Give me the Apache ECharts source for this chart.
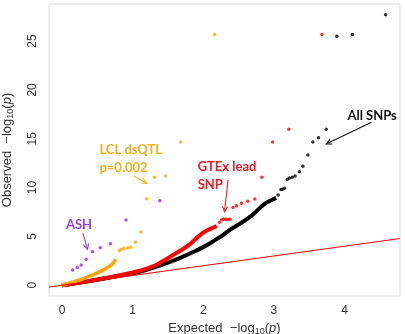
<!DOCTYPE html>
<html><head><meta charset="utf-8">
<script src="https://cdn.jsdelivr.net/npm/echarts@6.0.0/dist/echarts.min.js"></script>
<style>html,body{margin:0;padding:0;background:#fff}#c{width:405px;height:334px}</style>
</head><body><div id="c"></div>
<script>
// Axis ticks
const xTicks = [0, 1, 2, 3, 4];
const yTicks = [0, 5, 10, 15, 20, 25];
const xRange = [-0.184, 4.784];
const yRange = [-1.1, 28.8];

// All SNPs (black): dense part and sparse tail [expected, observed]
const allDense = [[0,0],[0.1,0.1],[0.2,0.21],[0.3,0.32],[0.4,0.44],[0.5,0.56],[0.6,0.69],[0.7,0.82],[0.8,0.95],[0.9,1.08],[1.0,1.22],[1.1,1.38],[1.22,1.62],[1.34,1.9],[1.45,2.2],[1.57,2.5],[1.69,2.85],[1.81,3.25],[1.93,3.65],[2.05,4.1],[2.16,4.6],[2.28,5.15],[2.38,5.7],[2.47,6.1],[2.54,6.4],[2.61,6.75],[2.68,7.1],[2.75,7.55],[2.82,8.05],[2.89,8.45],[2.96,8.7],[3.03,8.95]];
const allSparse = [[3.06,9.24],[3.10,9.8],[3.12,9.83],[3.15,9.93],[3.19,10.85],[3.22,10.98],[3.26,11.05],[3.30,11.19],[3.36,11.63],[3.41,12.18],[3.48,13.34],[3.55,14.67],[3.63,15.1],[3.74,15.97],[3.89,25.5],[4.11,25.68],[4.58,27.7]];

// GTEx lead SNP (red)
const gtexDense = [[0,0],[0.1,0.1],[0.2,0.22],[0.3,0.34],[0.4,0.46],[0.5,0.59],[0.6,0.72],[0.7,0.86],[0.8,1.0],[0.9,1.15],[1.0,1.3],[1.1,1.48],[1.22,1.75],[1.34,2.1],[1.45,2.55],[1.57,3.1],[1.69,3.6],[1.81,4.2],[1.90,4.8],[1.98,5.3],[2.05,5.6],[2.12,5.85],[2.19,6.05]];
const gtexSparse = [[2.23,6.45],[2.26,6.72],[2.29,6.75],[2.32,6.75],[2.35,6.75],[2.38,6.75],[2.42,7.95],[2.47,8.15],[2.54,8.4],[2.63,8.6],[2.73,8.83],[2.83,11.05],[2.98,14.67],[3.21,15.97],[3.68,25.68]];

// LCL dsQTL p=0.002 (orange)
const lclDense = [[0,0],[0.07,0.15],[0.16,0.33],[0.26,0.56],[0.36,0.85],[0.45,1.12],[0.54,1.40],[0.61,1.65],[0.66,1.9],[0.70,2.1],[0.73,2.3],[0.76,2.66]];
const lclSparse = [[0.81,3.54],[0.84,3.68],[0.88,3.79],[0.93,3.82],[0.97,3.89],[1.04,4.40],[1.12,5.46],[1.20,8.87],[1.31,11.05],[1.465,11.19],[1.68,14.67],[2.16,25.68]];

// ASH (purple)
const ashPoints = [[0.15,1.57],[0.216,1.81],[0.272,2.08],[0.343,2.66],[0.432,3.44],[0.54,3.85],[0.685,4.26],[0.906,6.68],[1.385,8.66]];

// Annotations: label lines, anchor (data coords), arrow from/to (data coords)
const annoLabels = [['All SNPs'], ['GTEx lead', 'SNP'], ['LCL dsQTL', 'p=0.002'], ['ASH']];
const annoAnchors = [[4.04,17.3], [1.92,12.1], [0.53,13.85], [0.056,6.17]];
const annoArrows = [[[4.38,16.7],[3.74,14.46]], [[2.35,10.78],[2.30,7.53]], [[1.02,11.17],[1.20,10.44]], [[0.296,5.32],[0.361,3.68]]];
const annoColors = ['#111111', '#ee1c25', '#f2b024', '#9b3cf0'];

const chart = echarts.init(document.getElementById('c'), null, {renderer: 'canvas'});

const richName = {
  n: {fontFamily: 'Liberation Sans', fontSize: 13, color: '#333'},
  s: {fontFamily: 'Liberation Sans', fontSize: 9, color: '#333', verticalAlign: 'bottom', padding: [6,0,0,0]},
  i: {fontFamily: 'Liberation Sans', fontStyle: 'italic', fontSize: 13, color: '#333'}
};

const option = {
  animation: false,
  grid: {left: 49, right: 5, top: 4, bottom: 38, containLabel: false, outerBoundsMode: 'none',
         show: true, borderColor: '#dcdcdc', borderWidth: 1, backgroundColor: 'transparent'},
  xAxis: {
    type: 'value', min: xRange[0], max: xRange[1],
    axisLine: {show: false}, splitLine: {show: false},
    axisTick: {show: false},
    axisLabel: {customValues: xTicks, color: '#333', fontFamily: 'Liberation Sans', fontSize: 12, margin: 9},
    name: '{n|Expected  \u2212log}{s|10}{n|(}{i|p}{n|)}', nameLocation: 'middle', nameGap: 24,
    nameTextStyle: {rich: richName}
  },
  yAxis: {
    type: 'value', min: yRange[0], max: yRange[1],
    axisLine: {show: false}, splitLine: {show: false},
    axisTick: {show: false},
    axisLabel: {customValues: yTicks, rotate: 90, color: '#333', fontFamily: 'Liberation Sans', fontSize: 12, margin: 10},
    name: '{n|Observed  \u2212log}{s|10}{n|(}{i|p}{n|)}', nameLocation: 'middle', nameGap: 34, nameRotate: 90,
    nameTextStyle: {rich: richName}
  },
  series: [
    {type: 'line', data: allDense, showSymbol: false, lineStyle: {color: '#000', width: 4}, z: 2},
    {type: 'scatter', data: allSparse, symbolSize: 3.5, itemStyle: {color: '#000'}, z: 2},
    {type: 'line', data: gtexDense, showSymbol: false, lineStyle: {color: '#ff0000', width: 4}, z: 3},
    {type: 'scatter', data: gtexSparse, symbolSize: 3.5, itemStyle: {color: '#ff0000'}, z: 3},
    {type: 'line', data: lclDense, showSymbol: false, lineStyle: {color: '#ffa500', width: 3.5}, z: 4},
    {type: 'scatter', data: lclSparse, symbolSize: 3.5, itemStyle: {color: '#ffa500'}, z: 4},
    {type: 'scatter', data: ashPoints, symbolSize: 3.5, itemStyle: {color: '#a020f0'}, z: 5},
    {type: 'line', data: [[xRange[0], xRange[0]], [xRange[1], xRange[1]]], showSymbol: false, lineStyle: {color: '#ff0000', width: 1}, z: 6}
  ]
};
chart.setOption(option);

const graphics = [];
annoLabels.forEach((lines, i) => {
  const p = chart.convertToPixel({gridIndex: 0}, annoAnchors[i]);
  lines.forEach((t, j) => {
    graphics.push({
      type: 'text', silent: true, z: 100,
      style: {text: t, x: p[0], y: p[1] + j * 17.5, fill: annoColors[i], font: 'bold 13px Lato', align: 'left', verticalAlign: 'middle'}
    });
  });
  // arrow: shaft + open V head
  const a = chart.convertToPixel({gridIndex: 0}, annoArrows[i][0]);
  const b = chart.convertToPixel({gridIndex: 0}, annoArrows[i][1]);
  const ang = Math.atan2(b[1] - a[1], b[0] - a[0]);
  const L = 6, w = Math.PI / 7;
  const h1 = [b[0] - L * Math.cos(ang - w), b[1] - L * Math.sin(ang - w)];
  const h2 = [b[0] - L * Math.cos(ang + w), b[1] - L * Math.sin(ang + w)];
  graphics.push({type: 'polyline', silent: true, z: 100, shape: {points: [a, b]}, style: {stroke: annoColors[i], lineWidth: 1.1, fill: null}});
  graphics.push({type: 'polyline', silent: true, z: 100, shape: {points: [h1, b, h2]}, style: {stroke: annoColors[i], lineWidth: 1.1, fill: null}});
});
chart.setOption({graphic: graphics});
</script></body></html>
